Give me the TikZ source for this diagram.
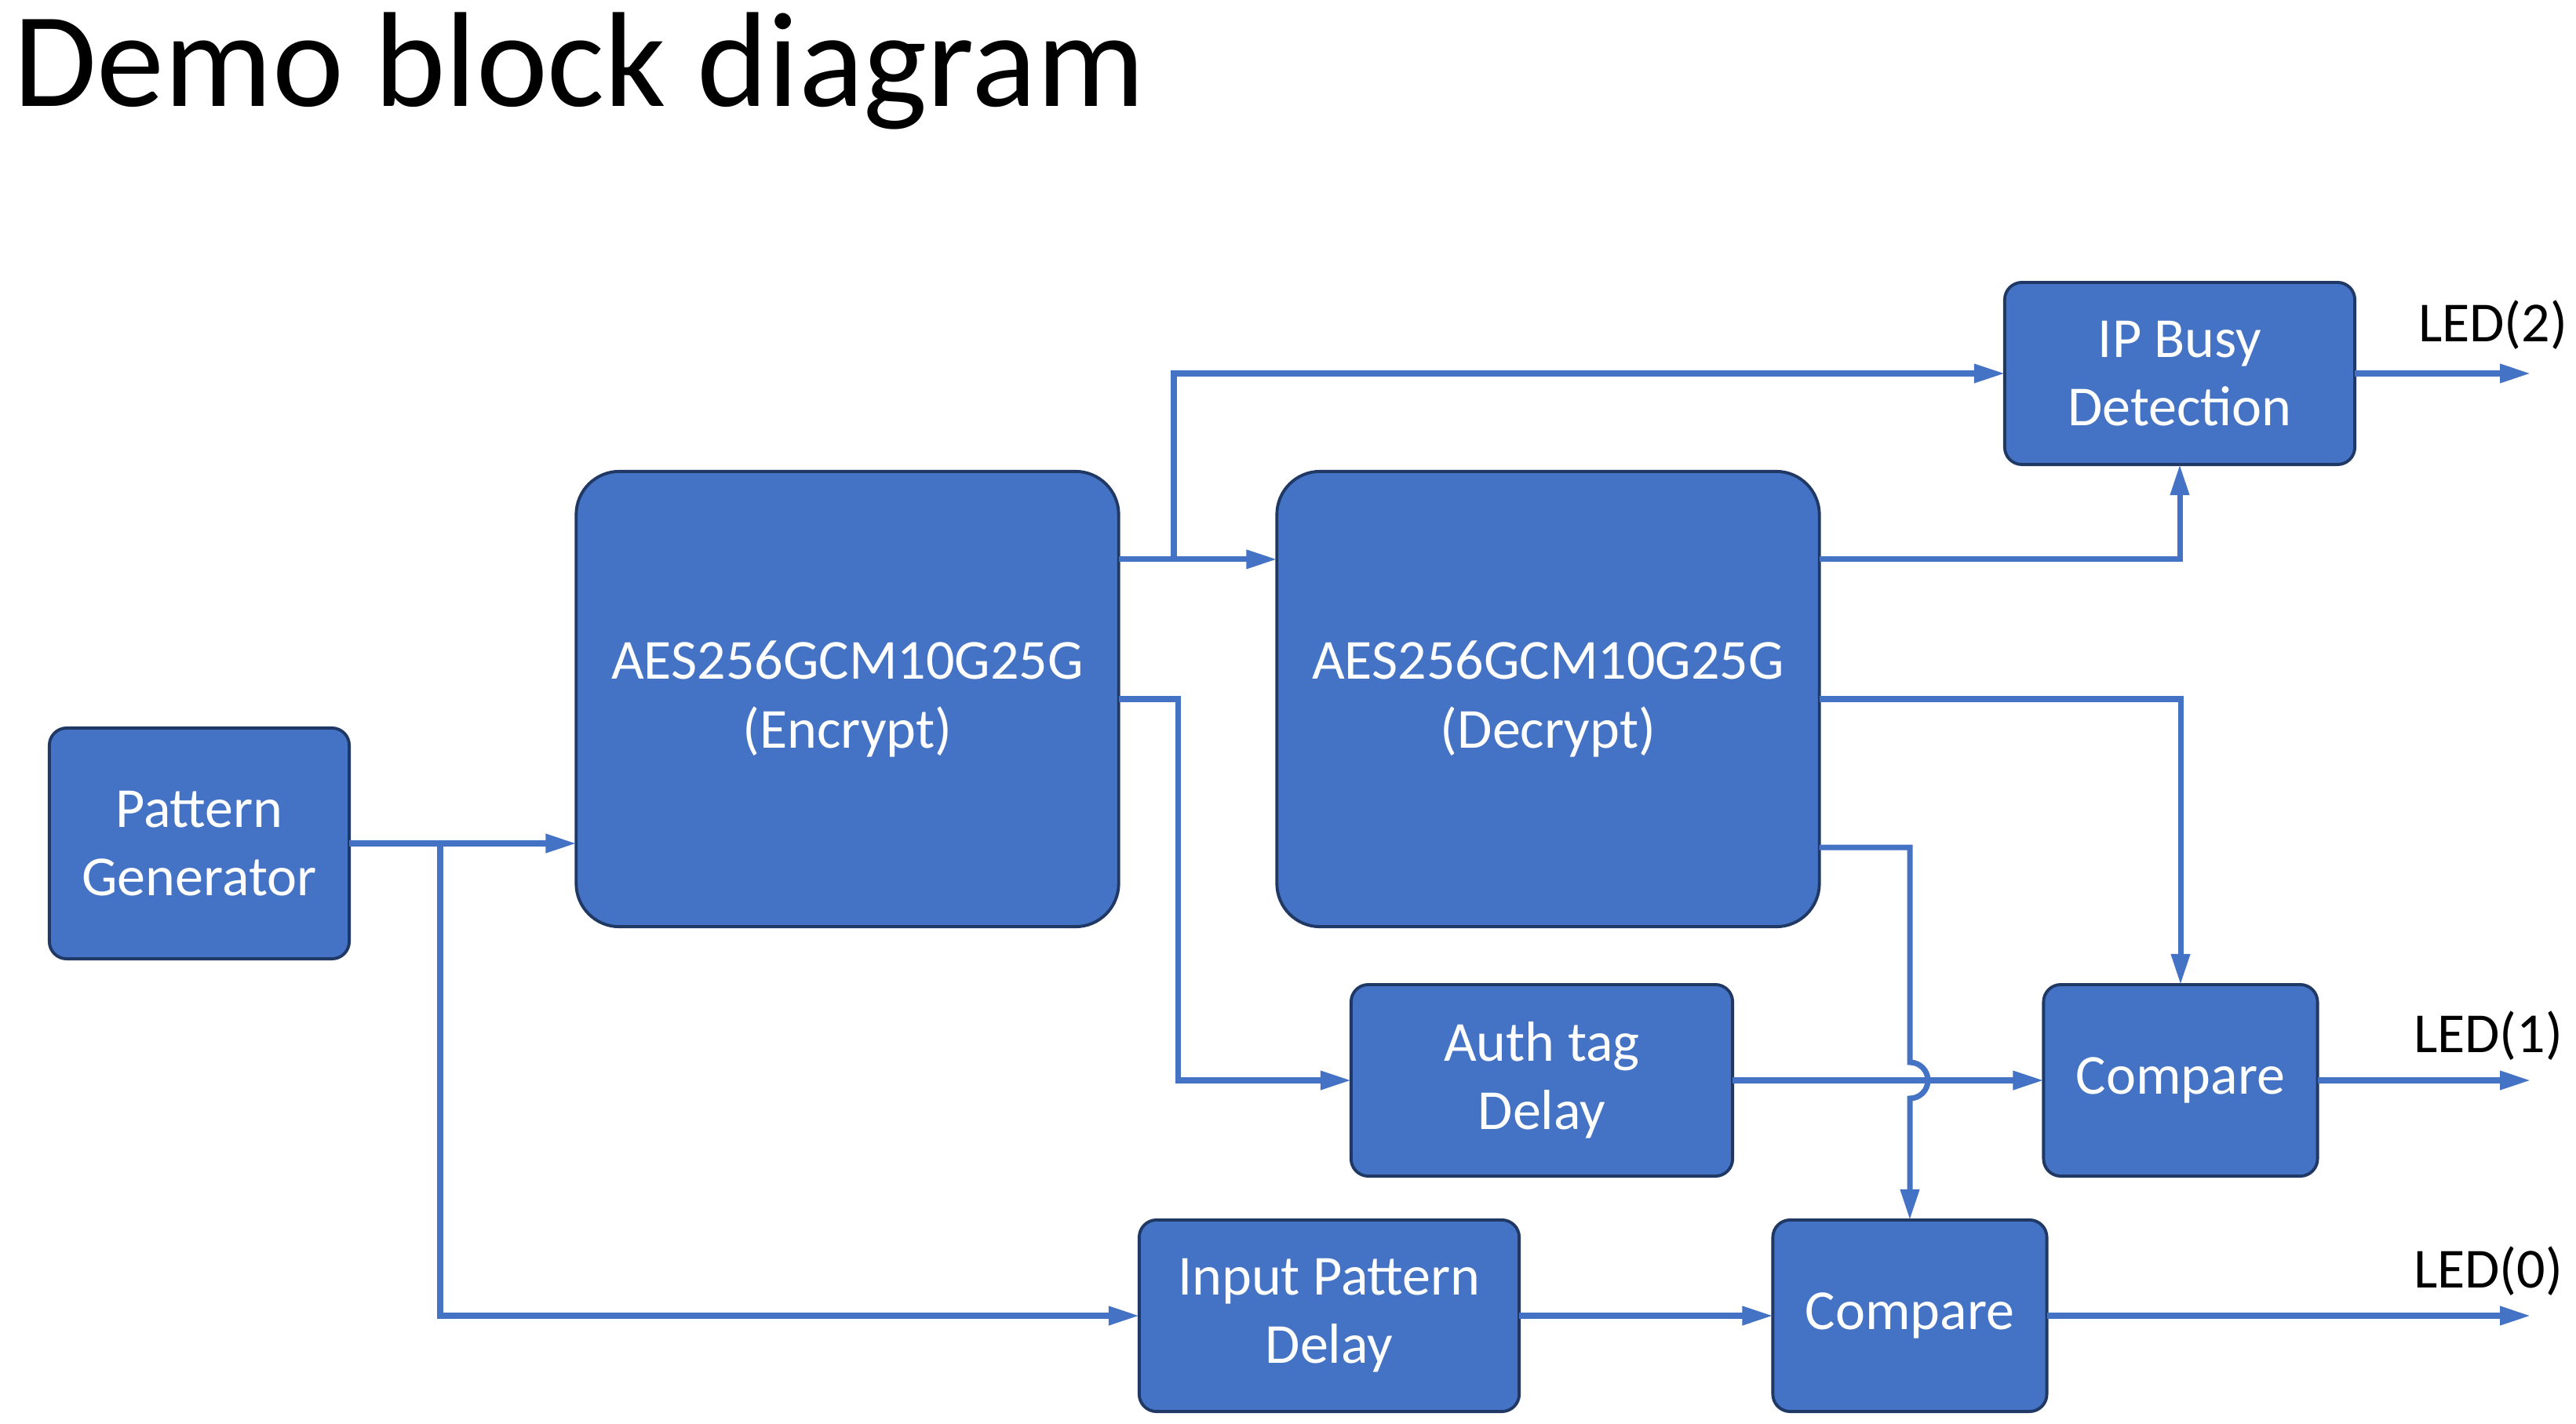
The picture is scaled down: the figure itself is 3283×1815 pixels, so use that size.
\documentclass[tikz,border=0pt]{standalone}
\usepackage{fontspec}
\setmainfont{Carlito}
\usetikzlibrary{arrows.meta,calc}
\definecolor{boxblue}{HTML}{4472C4}
\definecolor{boxedge}{HTML}{1F3864}
\begin{document}
\begin{tikzpicture}[x=0.01cm, y=-0.01cm, outer sep=0pt]

\tikzstyle{block}=[draw=boxedge, line width=1.1pt, fill=boxblue, rectangle, rounded corners=0.22cm, text=white, align=center, inner sep=0pt, font=\fontsize{20.5}{24.8}\selectfont]
\tikzstyle{bigblock}=[block, rounded corners=0.55cm, minimum width=6.91cm, minimum height=5.8cm]
\tikzstyle{wire}=[draw=boxblue, line width=2pt, -{Triangle[length=0.39cm, width=0.23cm]}]
\tikzstyle{ledlabel}=[anchor=base west, inner sep=0pt, font=\fontsize{20.5}{24.8}\selectfont]

\useasboundingbox (0,0) rectangle (3283,1815);

\node[anchor=base west, inner sep=0pt, font=\fontsize{49}{59}\selectfont] (title) at (18,135) {Demo block diagram};

\node[block, minimum width=3.82cm, minimum height=2.94cm] (pg) at (254,1075) {Pattern\\Generator};
\node[bigblock] (enc) at (1080,891) {AES256GCM10G25G\\(Encrypt)};
\node[bigblock] (dec) at (1973,891) {AES256GCM10G25G\\(Decrypt)};
\node[block, minimum width=4.46cm, minimum height=2.32cm] (busy) at (2778,476) {IP Busy\\Detection};
\node[block, minimum width=4.86cm, minimum height=2.44cm] (auth) at (1965,1377) {Auth tag\\Delay};
\node[block, minimum width=3.49cm, minimum height=2.44cm] (cmpa) at (2779,1377) {Compare};
\node[block, minimum width=4.84cm, minimum height=2.44cm] (ipd) at (1694,1677) {Input Pattern\\Delay};
\node[block, minimum width=3.49cm, minimum height=2.44cm] (cmpb) at (2434,1677) {Compare};

% ports
\coordinate (pgsplit) at (561,1075);
\coordinate (encq) at ([yshift=1.78cm]enc.east);
\coordinate (encsplit) at (1496,713);
\coordinate (decq) at ([yshift=1.78cm]dec.east);
\coordinate (decr) at ([yshift=-1.89cm]dec.east);
\coordinate (out2) at (3225,476);
\coordinate (out1) at (3225,1377);
\coordinate (out0) at (3225,1677);

\draw[wire] (pg.east) -- (pg.east -| enc.west);
\draw[wire] (pgsplit) |- (ipd.west);
\draw[wire] (encq) -- (encq -| dec.west);
\draw[wire] (encsplit) |- (busy.west);
\draw[wire] (enc.east) -- ++(0.76cm,0) |- (auth.west);
\draw[wire] (decq) -| (busy.south);
\draw[wire] (dec.east) -| (cmpa.north);
\draw[wire] (auth.east) -- (cmpa.west);
\draw[wire] (decr) -| ($(cmpb.north |- auth.east)+(0,0.23cm)$) arc[start angle=90, end angle=-90, radius=0.23cm] -- (cmpb.north);
\draw[wire] (ipd.east) -- (cmpb.west);
\draw[wire] (busy.east) -- (out2);
\draw[wire] (cmpa.east) -- (out1);
\draw[wire] (cmpb.east) -- (out0);

\node[ledlabel] (led2) at (3082,435) {LED(2)};
\node[ledlabel] (led1) at (3076,1341) {LED(1)};
\node[ledlabel] (led0) at (3076,1641) {LED(0)};

\end{tikzpicture}
\end{document}
